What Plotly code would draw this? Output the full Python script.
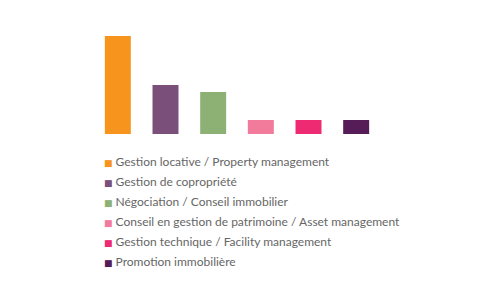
import plotly.graph_objects as go

categories = [
    "Gestion locative / Property management",
    "Gestion de copropriété",
    "Négociation / Conseil immobilier",
    "Conseil en gestion de patrimoine / Asset management",
    "Gestion technique / Facility management",
    "Promotion immobilière",
]
values = [14, 7, 6, 2, 2, 2]
colors = ["#F7941D", "#7A4F7A", "#8DB174", "#F27A9A", "#EE2A72", "#561C57"]

fig = go.Figure()
fig.add_trace(go.Bar(
    x=categories, y=values, marker=dict(color=colors, line=dict(width=0)),
    showlegend=False, hoverinfo="x+y",
))
for i, (c, col) in enumerate(zip(categories, colors)):
    label = f"<span style='color:{col};font-size:9px;font-family:DejaVu Sans'>■</span> {c}"
    fig.add_trace(go.Scatter(
        x=[None], y=[None], mode="markers", name=label, legendgroup=f"g{i}",
        marker=dict(symbol="square", size=0, color="rgba(0,0,0,0)",
                    line=dict(width=0, color="rgba(0,0,0,0)")),
    ))

fig.update_layout(
    width=500, height=300,
    margin=dict(l=94, r=120, t=36, b=166, pad=0),
    paper_bgcolor="white", plot_bgcolor="white",
    bargap=0.455,
    xaxis=dict(visible=False),
    yaxis=dict(visible=False, range=[0, 14]),
    font=dict(family="Lato", size=12, color="#666666"),
    legend=dict(
        x=-0.105, xanchor="left", y=-0.13, yanchor="top",
        traceorder="grouped", tracegroupgap=1,
        bgcolor="rgba(0,0,0,0)", borderwidth=0,
        font=dict(family="Lato", size=12, color="#666666"),
    ),
)
fig.write_html("out.html")
